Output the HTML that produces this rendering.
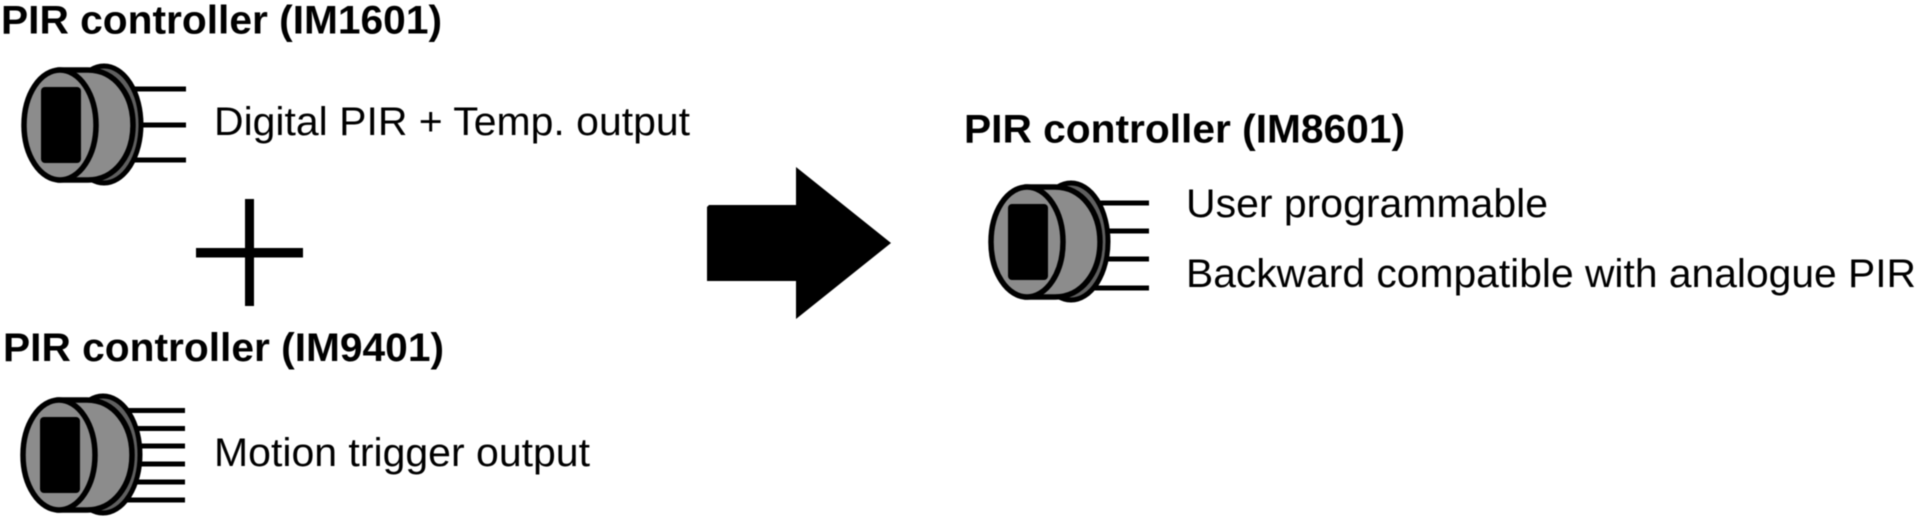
<!DOCTYPE html>
<html>
<head>
<meta charset="utf-8">
<style>
html,body{margin:0;padding:0;background:#fff;width:1920px;height:520px;overflow:hidden}
svg{display:block;filter:blur(0.6px)}
text{font-family:"Liberation Sans",sans-serif;fill:#000}
.h{font-weight:bold;font-size:40px}
.t{font-size:40px}
</style>
</head>
<body>
<svg width="1920" height="520" viewBox="0 0 1920 520" xmlns="http://www.w3.org/2000/svg">
<defs>
<g id="dev">
  <ellipse cx="104" cy="124.5" rx="37" ry="58.5" fill="#5f5f5f" stroke="#000" stroke-width="5"/>
  <path d="M60 70 H88 C115 70 133 95 133 125 C133 155 115 180 88 180 H60 Z" fill="#8c8c8c" stroke="#000" stroke-width="5.5"/>
  <ellipse cx="60" cy="125" rx="36" ry="55" fill="#8c8c8c" stroke="#000" stroke-width="5.5"/>
  <rect x="41" y="87" width="40" height="76" rx="4" fill="#000"/>
</g>
</defs>

<text class="h" x="1" y="33.5" textLength="441" lengthAdjust="spacingAndGlyphs">PIR controller (IM1601)</text>
<g stroke="#000" stroke-width="5" fill="none">
  <path d="M120 89 H186 M120 125 H186 M120 160 H186"/>
</g>
<use href="#dev"/>
<text class="t" x="214" y="135" textLength="476" lengthAdjust="spacingAndGlyphs">Digital PIR + Temp. output</text>

<rect x="196" y="248" width="107" height="9.5" fill="#000"/>
<rect x="245" y="199" width="9" height="107" fill="#000"/>

<text class="h" x="3" y="361" textLength="441" lengthAdjust="spacingAndGlyphs">PIR controller (IM9401)</text>
<g stroke="#000" stroke-width="5" fill="none">
  <path d="M110 410.5 H185 M120 428.5 H185 M120 446 H185 M120 464 H185 M120 482 H185 M110 500 H185"/>
</g>
<use href="#dev" transform="translate(-1 330)"/>
<text class="t" x="214" y="466" textLength="376" lengthAdjust="spacingAndGlyphs">Motion trigger output</text>

<path d="M707 207 L709 205 H796 V167 L891 243 L796 319 V281 H707 Z" fill="#000"/>

<text class="h" x="964" y="142.5" textLength="441" lengthAdjust="spacingAndGlyphs">PIR controller (IM8601)</text>
<g stroke="#000" stroke-width="5" fill="none">
  <path d="M1085 203 H1149 M1085 231 H1149 M1085 259 H1149 M1085 288 H1149"/>
</g>
<use href="#dev" transform="translate(967 117)"/>
<text class="t" x="1186" y="217" textLength="362" lengthAdjust="spacingAndGlyphs">User programmable</text>
<text class="t" x="1186" y="287" textLength="730" lengthAdjust="spacingAndGlyphs">Backward compatible with analogue PIR</text>
</svg>
</body>
</html>
